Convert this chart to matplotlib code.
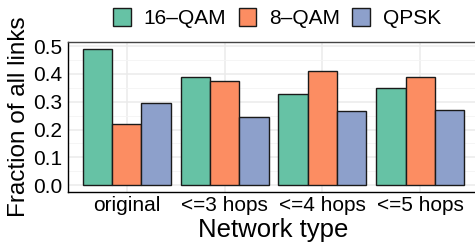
import matplotlib
matplotlib.use("Agg")
import matplotlib.pyplot as plt
import numpy as np

# Data
categories = ["original", "<=3 hops", "<=4 hops", "<=5 hops"]
series_names = ["16\u2013QAM", "8\u2013QAM", "QPSK"]
qam16 = [0.490, 0.388, 0.329, 0.348]
qam8 = [0.221, 0.374, 0.411, 0.389]
qpsk = [0.294, 0.245, 0.267, 0.269]
colors = ["#66c2a5", "#fc8d62", "#8da0cb"]

plt.rcParams["font.family"] = ["Liberation Sans", "DejaVu Sans"]

fig = plt.figure(figsize=(4.75, 2.48), dpi=100)
ax = fig.add_axes([68 / 475, 56 / 248, 411 / 475, 150 / 248])

x = np.arange(1, len(categories) + 1)
width = 0.3
for i, (vals, name, col) in enumerate(zip([qam16, qam8, qpsk], series_names, colors)):
    ax.bar(x + (i - 1) * width, vals, width, color=col, edgecolor="#1a1a1a",
           linewidth=1.0, label=name, zorder=3)

ax.set_xlim(0.4, 4.6)
ax.set_ylim(-0.0245, 0.5145)
ax.set_xticks(x)
ax.set_xticklabels(categories)
ax.set_yticks([0.0, 0.1, 0.2, 0.3, 0.4, 0.5])
ax.set_yticklabels(["0.0", "0.1", "0.2", "0.3", "0.4", "0.5"])
ax.set_yticks([0.05, 0.15, 0.25, 0.35, 0.45], minor=True)
ax.tick_params(axis="both", which="both", length=0, labelsize=15, colors="black")
ax.tick_params(axis="y", pad=4)
ax.tick_params(axis="x", pad=3)

ax.grid(True, which="major", color="#ebebeb", linewidth=1.1, zorder=0)
ax.grid(True, which="minor", axis="y", color="#f4f4f4", linewidth=0.6, zorder=0)
ax.set_axisbelow(True)

for side in ["left", "bottom"]:
    ax.spines[side].set_color("black")
    ax.spines[side].set_linewidth(1.0)
ax.spines["top"].set_color("#444444")
ax.spines["top"].set_linewidth(1.0)
ax.spines["right"].set_visible(False)

ax.set_xlabel("Network type", fontsize=18.5, labelpad=2)
ax.set_ylabel("Fraction of all links", fontsize=17.5, labelpad=2)

ax.legend(loc="lower center", bbox_to_anchor=((277 - 68) / 411, 1.0),
          ncol=3, frameon=False, fontsize=15, handlelength=0.85, handleheight=0.95,
          handletextpad=0.6, columnspacing=0.6, borderaxespad=0.25)

fig.savefig("out.png", dpi=100)
